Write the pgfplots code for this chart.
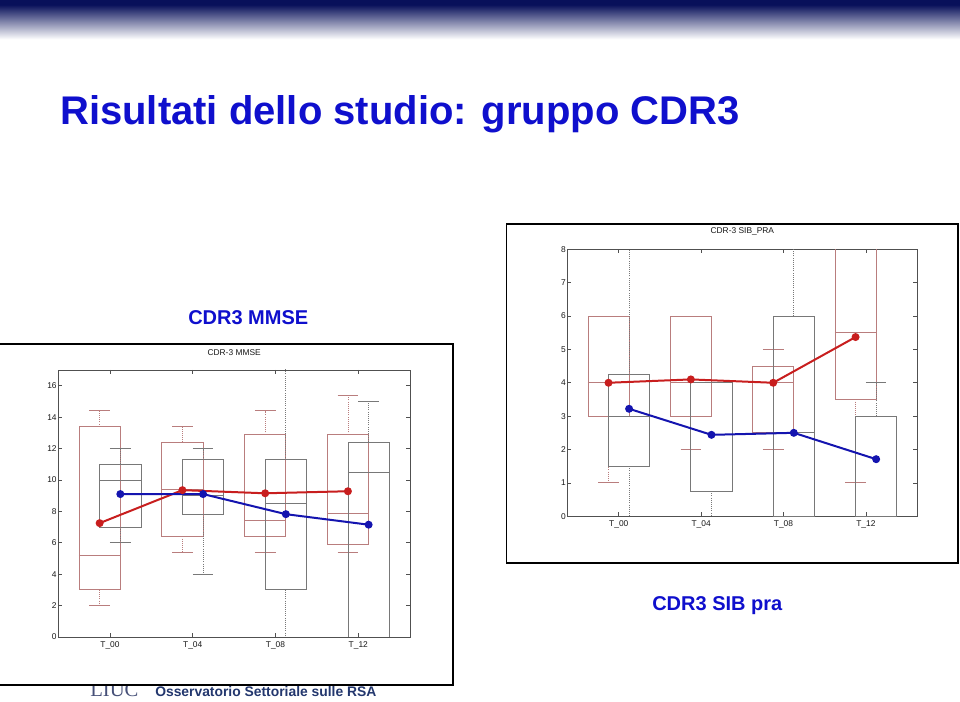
\documentclass[border=0pt]{standalone}
\usepackage{pgfplots}
\pgfplotsset{compat=1.18}
\usepgfplotslibrary{statistics}
\usepackage{fontspec}
\setmainfont{Liberation Sans}
\newfontfamily\seriffont{Liberation Serif}
\definecolor{navy}{RGB}{8,16,90}
\definecolor{titleblue}{RGB}{15,15,205}
\definecolor{footblue}{RGB}{35,55,110}
\definecolor{liucgray}{RGB}{70,80,120}
\definecolor{boxred}{RGB}{185,125,125}
\definecolor{boxgray}{RGB}{120,120,120}
\definecolor{linered}{RGB}{200,30,30}
\definecolor{lineblue}{RGB}{20,20,175}
\definecolor{axgray}{RGB}{80,80,80}

\pgfplotsset{
  mybox/.style={
    boxplot/draw direction=y,
    boxplot/box extend=0.5,
    boxplot/whisker extend=0.25,
    boxplot/every box/.style={line width=0.6pt},
    boxplot/every median/.style={line width=0.6pt},
    boxplot/draw/lower whisker/.code={
      \draw[densely dotted,line width=0.6pt] (boxplot box cs:\pgfplotsboxplotvalue{lower quartile},0.5) -- (boxplot box cs:\pgfplotsboxplotvalue{lower whisker},0.5);
      \draw[line width=0.6pt] (boxplot whisker cs:\pgfplotsboxplotvalue{lower whisker},0) -- (boxplot whisker cs:\pgfplotsboxplotvalue{lower whisker},1);
    },
    boxplot/draw/upper whisker/.code={
      \draw[densely dotted,line width=0.6pt] (boxplot box cs:\pgfplotsboxplotvalue{upper quartile},0.5) -- (boxplot box cs:\pgfplotsboxplotvalue{upper whisker},0.5);
      \draw[line width=0.6pt] (boxplot whisker cs:\pgfplotsboxplotvalue{upper whisker},0) -- (boxplot whisker cs:\pgfplotsboxplotvalue{upper whisker},1);
    },
  },
  slideaxis/.style={
    scale only axis,
    height=200.25pt,
    xmin=0.375, xmax=4.625, ymin=0,
    xtick={1,2,3,4}, xticklabels={T\_00,T\_04,T\_08,T\_12},
    tick align=inside, major tick length=3pt,
    axis line style={axgray, line width=0.6pt},
    every tick/.style={axgray, line width=0.5pt},
    /pgf/number format/assume math mode=true,
    tick label style={font=\fontsize{6.3}{7}\selectfont, text=black!90},
    yticklabel style={inner sep=1pt},
    title style={font=\fontsize{6.3}{7}\selectfont, text=black!90, at={(0.5,1)}, anchor=south, inner sep=0pt, yshift=4.5pt},
  },
  meanred/.style={color=linered, line width=1.5pt, mark=*, mark size=2.2pt, mark options={solid}},
  meanblue/.style={color=lineblue, line width=1.5pt, mark=*, mark size=2.2pt, mark options={solid}},
}

\begin{document}
\begin{tikzpicture}
\useasboundingbox (0,0) rectangle (720pt,526.5pt);
\clip (0,0) rectangle (720pt,526.5pt);
\fill[white] (0,0) rectangle (720pt,526.5pt);
% header gradient
\shade[top color=navy, bottom color=white] (0,497pt) rectangle (720pt,523pt);
\fill[navy] (0,523pt) rectangle (720pt,526.5pt);

% titles
\node[anchor=base west, inner sep=0pt, text=titleblue, font=\fontsize{30}{36}\selectfont\bfseries] at (45pt,432.75pt) {Risultati dello studio: gruppo CDR3};
\node[anchor=base west, inner sep=0pt, text=titleblue, font=\fontsize{15}{18}\selectfont\bfseries] at (141pt,283pt) {CDR3 MMSE};
\node[anchor=base west, inner sep=0pt, text=titleblue, font=\fontsize{15}{18}\selectfont\bfseries] at (489pt,68.5pt) {CDR3 SIB pra};

% footer
\node[anchor=base west, inner sep=0pt, text=liucgray, font=\fontsize{15.5}{18}\seriffont] at (67.5pt,3.75pt) {LIUC};
\node[anchor=base west, inner sep=0pt, text=footblue, font=\fontsize{10.4}{12}\selectfont\bfseries] at (116.25pt,3.75pt) {Osservatorio Settoriale sulle RSA};

% panel frames
\draw[black, line width=1.1pt, fill=white] (-2pt,12.75pt) rectangle (339.75pt,268.5pt);
\draw[black, line width=1.1pt, fill=white] (380pt,104.25pt) rectangle (718.5pt,358.5pt);

% ---------- MMSE ----------
\begin{axis}[slideaxis, at={(43.7pt,48.75pt)}, anchor=south west,
  width=263.8pt, ymax=17, ytick={0,2,...,16}, title={CDR-3 MMSE}]
% red group
\addplot[mybox, color=boxred, boxplot prepared={draw position=0.875, lower whisker=2.0, lower quartile=3.0, median=5.2, upper quartile=13.4, upper whisker=14.4}] coordinates {};
\addplot[mybox, color=boxred, boxplot prepared={draw position=1.875, lower whisker=5.4, lower quartile=6.4, median=9.4, upper quartile=12.4, upper whisker=13.4}] coordinates {};
\addplot[mybox, color=boxred, boxplot prepared={draw position=2.875, lower whisker=5.4, lower quartile=6.4, median=7.4, upper quartile=12.9, upper whisker=14.4}] coordinates {};
\addplot[mybox, color=boxred, boxplot prepared={draw position=3.875, lower whisker=5.4, lower quartile=5.9, median=7.9, upper quartile=12.9, upper whisker=15.4}] coordinates {};
% gray group
\addplot[mybox, color=boxgray, boxplot prepared={draw position=1.125, lower whisker=6.0, lower quartile=7.0, median=10.0, upper quartile=11.0, upper whisker=12.0}] coordinates {};
\addplot[mybox, color=boxgray, boxplot prepared={draw position=2.125, lower whisker=4.0, lower quartile=7.8, median=9.0, upper quartile=11.3, upper whisker=12.0}] coordinates {};
\addplot[mybox, color=boxgray, boxplot prepared={draw position=3.125, lower whisker=-1.0, lower quartile=3.0, median=8.5, upper quartile=11.3, upper whisker=20.0}] coordinates {};
\addplot[mybox, color=boxgray, boxplot prepared={draw position=4.125, lower whisker=0.0, lower quartile=0.0, median=10.5, upper quartile=12.4, upper whisker=15.0}] coordinates {};
% means
\addplot[meanred] coordinates {(0.875,7.25) (1.875,9.35) (2.875,9.15) (3.875,9.28)};
\addplot[meanblue] coordinates {(1.125,9.1) (2.125,9.1) (3.125,7.82) (4.125,7.15)};
\end{axis}

% ---------- SIB ----------
\begin{axis}[slideaxis, at={(425.5pt,139.3pt)}, anchor=south west,
  width=262.5pt, ymax=8, ytick={0,1,...,8}, title={CDR-3 SIB\_PRA}]
\addplot[mybox, color=boxred, boxplot prepared={draw position=0.875, lower whisker=1, lower quartile=3, median=4, upper quartile=6, upper whisker=6}] coordinates {};
\addplot[mybox, color=boxred, boxplot prepared={draw position=1.875, lower whisker=2, lower quartile=3, median=4, upper quartile=6, upper whisker=6}] coordinates {};
\addplot[mybox, color=boxred, boxplot prepared={draw position=2.875, lower whisker=2, lower quartile=2.5, median=4, upper quartile=4.5, upper whisker=5}] coordinates {};
\addplot[mybox, color=boxred, boxplot prepared={draw position=3.875, lower whisker=1, lower quartile=3.5, median=5.5, upper quartile=9, upper whisker=10}] coordinates {};
\addplot[mybox, color=boxgray, boxplot prepared={draw position=1.125, lower whisker=-1, lower quartile=1.5, median=3, upper quartile=4.25, upper whisker=10}] coordinates {};
\addplot[mybox, color=boxgray, boxplot prepared={draw position=2.125, lower whisker=-1, lower quartile=0.75, median=4, upper quartile=4, upper whisker=4}] coordinates {};
\addplot[mybox, color=boxgray, boxplot prepared={draw position=3.125, lower whisker=0, lower quartile=0, median=2.5, upper quartile=6, upper whisker=10}] coordinates {};
\addplot[mybox, color=boxgray, boxplot prepared={draw position=4.125, lower whisker=0, lower quartile=0, median=0, upper quartile=3, upper whisker=4}] coordinates {};
\addplot[meanred] coordinates {(0.875,4.0) (1.875,4.1) (2.875,4.0) (3.875,5.37)};
\addplot[meanblue] coordinates {(1.125,3.22) (2.125,2.44) (3.125,2.5) (4.125,1.71)};
\end{axis}
\end{tikzpicture}
\end{document}
